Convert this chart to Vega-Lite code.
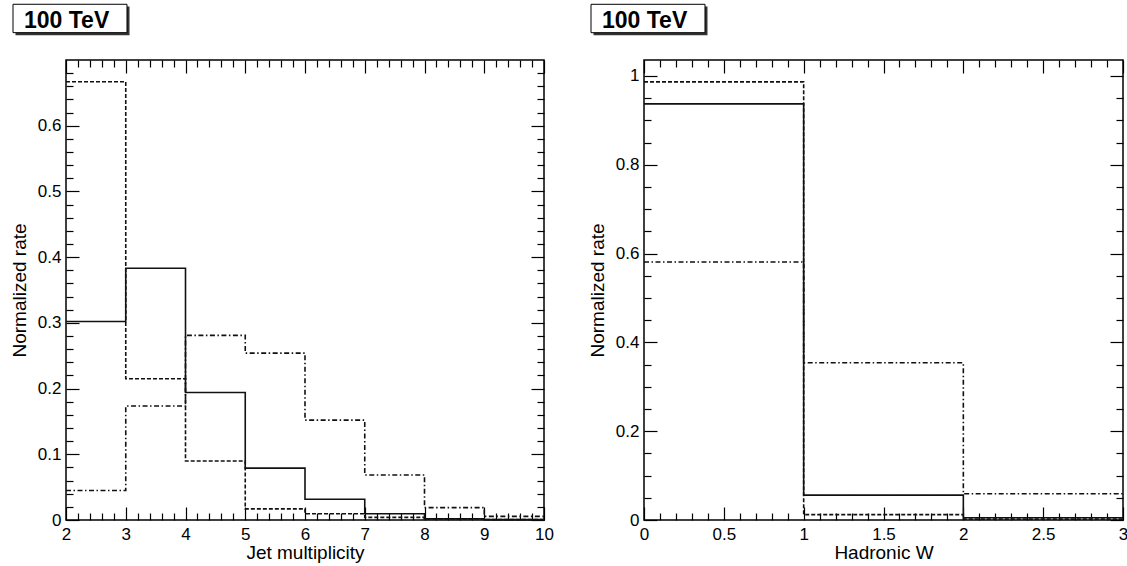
{
  "$schema": "https://vega.github.io/schema/vega-lite/v6.json",
  "background": "white",
  "padding": {"left": 9, "top": 3, "right": 0, "bottom": 0},
  "spacing": 32,
  "config": {
    "font": "Liberation Sans",
    "view": {"stroke": "#000", "strokeWidth": 1.5},
    "axis": {
      "domain": false, "grid": false, "tickColor": "#000", "tickWidth": 1.2,
      "labelColor": "#000", "labelFontSize": 17, "labelFont": "Liberation Sans",
      "titleFont": "Liberation Sans", "titleFontSize": 19, "titleFontWeight": "normal", "titleColor": "#000",
      "labelOverlap": false, "labelFlush": false, "labelBound": false
    }
  },
  "datasets": {
    "jets": [
      {"s": "s1", "x": 2, "y": 0.302}, {"s": "s1", "x": 3, "y": 0.383}, {"s": "s1", "x": 4, "y": 0.194}, {"s": "s1", "x": 5, "y": 0.079}, {"s": "s1", "x": 6, "y": 0.0315}, {"s": "s1", "x": 7, "y": 0.0096}, {"s": "s1", "x": 8, "y": 0.002}, {"s": "s1", "x": 9, "y": 0.0005}, {"s": "s1", "x": 10, "y": 0.0005},
      {"s": "s2", "x": 2, "y": 0.667}, {"s": "s2", "x": 3, "y": 0.215}, {"s": "s2", "x": 4, "y": 0.0898}, {"s": "s2", "x": 5, "y": 0.017}, {"s": "s2", "x": 6, "y": 0.0096}, {"s": "s2", "x": 7, "y": 0.004}, {"s": "s2", "x": 8, "y": 0.0015}, {"s": "s2", "x": 9, "y": 0.0005}, {"s": "s2", "x": 10, "y": 0.0005},
      {"s": "s3", "x": 2, "y": 0.045}, {"s": "s3", "x": 3, "y": 0.1735}, {"s": "s3", "x": 4, "y": 0.281}, {"s": "s3", "x": 5, "y": 0.254}, {"s": "s3", "x": 6, "y": 0.152}, {"s": "s3", "x": 7, "y": 0.0685}, {"s": "s3", "x": 8, "y": 0.0188}, {"s": "s3", "x": 9, "y": 0.0055}, {"s": "s3", "x": 10, "y": 0.0055}
    ],
    "hadw": [
      {"s": "s1", "x": 0, "y": 0.937}, {"s": "s1", "x": 1, "y": 0.056}, {"s": "s1", "x": 2, "y": 0.005}, {"s": "s1", "x": 3, "y": 0.005},
      {"s": "s2", "x": 0, "y": 0.9865}, {"s": "s2", "x": 1, "y": 0.012}, {"s": "s2", "x": 2, "y": 0.002}, {"s": "s2", "x": 3, "y": 0.002},
      {"s": "s3", "x": 0, "y": 0.581}, {"s": "s3", "x": 1, "y": 0.354}, {"s": "s3", "x": 2, "y": 0.059}, {"s": "s3", "x": 3, "y": 0.059}
    ],
    "tag": [{"label": "100 TeV"}]
  },
  "hconcat": [
    {
      "width": 478, "height": 460,
      "layer": [
        {
          "data": {"name": "tag"},
          "mark": {"type": "rect", "fill": "#333", "strokeWidth": 0},
          "encoding": {
            "x": {"datum": 1.1548, "type": "quantitative", "scale": {"domain": [2, 10]},
              "axis": {"orient": "top", "labels": false, "title": null,
                "values": [2,2.2,2.4,2.6,2.8,3,3.2,3.4,3.6,3.8,4,4.2,4.4,4.6,4.8,5,5.2,5.4,5.6,5.8,6,6.2,6.4,6.6,6.8,7,7.2,7.4,7.6,7.8,8,8.2,8.4,8.6,8.8,9,9.2,9.4,9.6,9.8,10],
                "tickSize": {"condition": {"test": "abs(datum.value - round(datum.value)) < 0.001", "value": -13}, "value": -7}}},
            "x2": {"datum": 3.0628},
            "y": {"datum": 0.7814, "type": "quantitative", "scale": {"domain": [0, 0.7]},
              "axis": {"orient": "right", "labels": false, "title": null,
                "values": [0,0.02,0.04,0.06,0.08,0.1,0.12,0.14,0.16,0.18,0.2,0.22,0.24,0.26,0.28,0.3,0.32,0.34,0.36,0.38,0.4,0.42,0.44,0.46,0.48,0.5,0.52,0.54,0.56,0.58,0.6,0.62,0.64,0.66,0.68],
                "tickSize": {"condition": {"test": "abs(datum.value*10 - round(datum.value*10)) < 0.001", "value": -13}, "value": -7}}},
            "y2": {"datum": 0.7376}
          }
        },
        {
          "data": {"name": "tag"},
          "mark": {"type": "rect", "fill": "white", "stroke": "#000", "strokeWidth": 1},
          "encoding": {
            "x": {"datum": 1.113, "type": "quantitative", "scale": {"domain": [2, 10]}, "axis": null},
            "x2": {"datum": 3.0209},
            "y": {"datum": 0.7848, "type": "quantitative", "scale": {"domain": [0, 0.7]}, "axis": null},
            "y2": {"datum": 0.7416}
          }
        },
        {
          "data": {"name": "tag"},
          "mark": {"type": "text", "font": "Liberation Sans", "fontWeight": "bold", "fontSize": 23, "align": "left", "baseline": "alphabetic", "color": "#000"},
          "encoding": {
            "x": {"datum": 1.2971, "type": "quantitative", "scale": {"domain": [2, 10]}, "axis": null},
            "y": {"datum": 0.7492, "type": "quantitative", "scale": {"domain": [0, 0.7]}, "axis": null},
            "text": {"field": "label"}
          }
        },
        {
          "data": {"name": "jets"},
          "mark": {"type": "line", "interpolate": "step-after", "strokeWidth": 1.6, "color": "#111"},
          "encoding": {
            "x": {"field": "x", "type": "quantitative", "scale": {"domain": [2, 10]},
              "axis": {"orient": "bottom", "title": "Jet multiplicity", "titlePadding": -5, "labelPadding": 19,
                "values": [2,2.2,2.4,2.6,2.8,3,3.2,3.4,3.6,3.8,4,4.2,4.4,4.6,4.8,5,5.2,5.4,5.6,5.8,6,6.2,6.4,6.6,6.8,7,7.2,7.4,7.6,7.8,8,8.2,8.4,8.6,8.8,9,9.2,9.4,9.6,9.8,10],
                "labelExpr": "abs(datum.value - round(datum.value)) < 0.001 ? format(datum.value, 'd') : ''",
                "tickSize": {"condition": {"test": "abs(datum.value - round(datum.value)) < 0.001", "value": -13}, "value": -7}}},
            "y": {"field": "y", "type": "quantitative", "scale": {"domain": [0, 0.7]},
              "axis": {"orient": "left", "title": "Normalized rate", "titlePadding": 8, "labelPadding": 18,
                "values": [0,0.02,0.04,0.06,0.08,0.1,0.12,0.14,0.16,0.18,0.2,0.22,0.24,0.26,0.28,0.3,0.32,0.34,0.36,0.38,0.4,0.42,0.44,0.46,0.48,0.5,0.52,0.54,0.56,0.58,0.6,0.62,0.64,0.66,0.68],
                "labelExpr": "abs(datum.value*10 - round(datum.value*10)) < 0.001 ? (datum.value == 0 ? '0' : format(datum.value, '.1f')) : ''",
                "tickSize": {"condition": {"test": "abs(datum.value*10 - round(datum.value*10)) < 0.001", "value": -13}, "value": -7}}},
            "strokeDash": {"field": "s", "type": "nominal", "scale": {"domain": ["s1", "s2", "s3"], "range": [[1, 0], [4, 2], [5, 2.5, 1.5, 2.5]]}, "legend": null}
          }
        }
      ],
      "resolve": {"axis": {"x": "independent", "y": "independent"}}
    },
    {
      "width": 479, "height": 460,
      "layer": [
        {
          "data": {"name": "tag"},
          "mark": {"type": "rect", "fill": "#333", "strokeWidth": 0},
          "encoding": {
            "x": {"datum": -0.3162, "type": "quantitative", "scale": {"domain": [0, 3]},
              "axis": {"orient": "top", "labels": false, "title": null,
                "values": [0,0.1,0.2,0.3,0.4,0.5,0.6,0.7,0.8,0.9,1,1.1,1.2,1.3,1.4,1.5,1.6,1.7,1.8,1.9,2,2.1,2.2,2.3,2.4,2.5,2.6,2.7,2.8,2.9,3],
                "tickSize": {"condition": {"test": "abs(datum.value*2 - round(datum.value*2)) < 0.001", "value": -13}, "value": -7}}},
            "x2": {"datum": 0.3977},
            "y": {"datum": 1.1563, "type": "quantitative", "scale": {"domain": [0, 1.0358]},
              "axis": {"orient": "right", "labels": false, "title": null,
                "values": [0,0.05,0.1,0.15,0.2,0.25,0.3,0.35,0.4,0.45,0.5,0.55,0.6,0.65,0.7,0.75,0.8,0.85,0.9,0.95,1],
                "tickSize": {"condition": {"test": "abs(datum.value*5 - round(datum.value*5)) < 0.001", "value": -13}, "value": -7}}},
            "y2": {"datum": 1.0914}
          }
        },
        {
          "data": {"name": "tag"},
          "mark": {"type": "rect", "fill": "white", "stroke": "#000", "strokeWidth": 1},
          "encoding": {
            "x": {"datum": -0.3319, "type": "quantitative", "scale": {"domain": [0, 3]}, "axis": null},
            "x2": {"datum": 0.3820},
            "y": {"datum": 1.1612, "type": "quantitative", "scale": {"domain": [0, 1.0358]}, "axis": null},
            "y2": {"datum": 1.0973}
          }
        },
        {
          "data": {"name": "tag"},
          "mark": {"type": "text", "font": "Liberation Sans", "fontWeight": "bold", "fontSize": 23, "align": "left", "baseline": "alphabetic", "color": "#000"},
          "encoding": {
            "x": {"datum": -0.263, "type": "quantitative", "scale": {"domain": [0, 3]}, "axis": null},
            "y": {"datum": 1.1085, "type": "quantitative", "scale": {"domain": [0, 1.0358]}, "axis": null},
            "text": {"field": "label"}
          }
        },
        {
          "data": {"name": "hadw"},
          "mark": {"type": "line", "interpolate": "step-after", "strokeWidth": 1.6, "color": "#111"},
          "encoding": {
            "x": {"field": "x", "type": "quantitative", "scale": {"domain": [0, 3]},
              "axis": {"orient": "bottom", "title": "Hadronic W", "titlePadding": -5, "labelPadding": 19,
                "values": [0,0.1,0.2,0.3,0.4,0.5,0.6,0.7,0.8,0.9,1,1.1,1.2,1.3,1.4,1.5,1.6,1.7,1.8,1.9,2,2.1,2.2,2.3,2.4,2.5,2.6,2.7,2.8,2.9,3],
                "labelExpr": "abs(datum.value*2 - round(datum.value*2)) < 0.001 ? format(datum.value, '~g') : ''",
                "tickSize": {"condition": {"test": "abs(datum.value*2 - round(datum.value*2)) < 0.001", "value": -13}, "value": -7}}},
            "y": {"field": "y", "type": "quantitative", "scale": {"domain": [0, 1.0358]},
              "axis": {"orient": "left", "title": "Normalized rate", "titlePadding": 8, "labelPadding": 18,
                "values": [0,0.05,0.1,0.15,0.2,0.25,0.3,0.35,0.4,0.45,0.5,0.55,0.6,0.65,0.7,0.75,0.8,0.85,0.9,0.95,1],
                "labelExpr": "abs(datum.value*5 - round(datum.value*5)) < 0.001 ? format(datum.value, '~g') : ''",
                "tickSize": {"condition": {"test": "abs(datum.value*5 - round(datum.value*5)) < 0.001", "value": -13}, "value": -7}}},
            "strokeDash": {"field": "s", "type": "nominal", "scale": {"domain": ["s1", "s2", "s3"], "range": [[1, 0], [4, 2], [5, 2.5, 1.5, 2.5]]}, "legend": null}
          }
        }
      ],
      "resolve": {"axis": {"x": "independent", "y": "independent"}}
    }
  ]
}
